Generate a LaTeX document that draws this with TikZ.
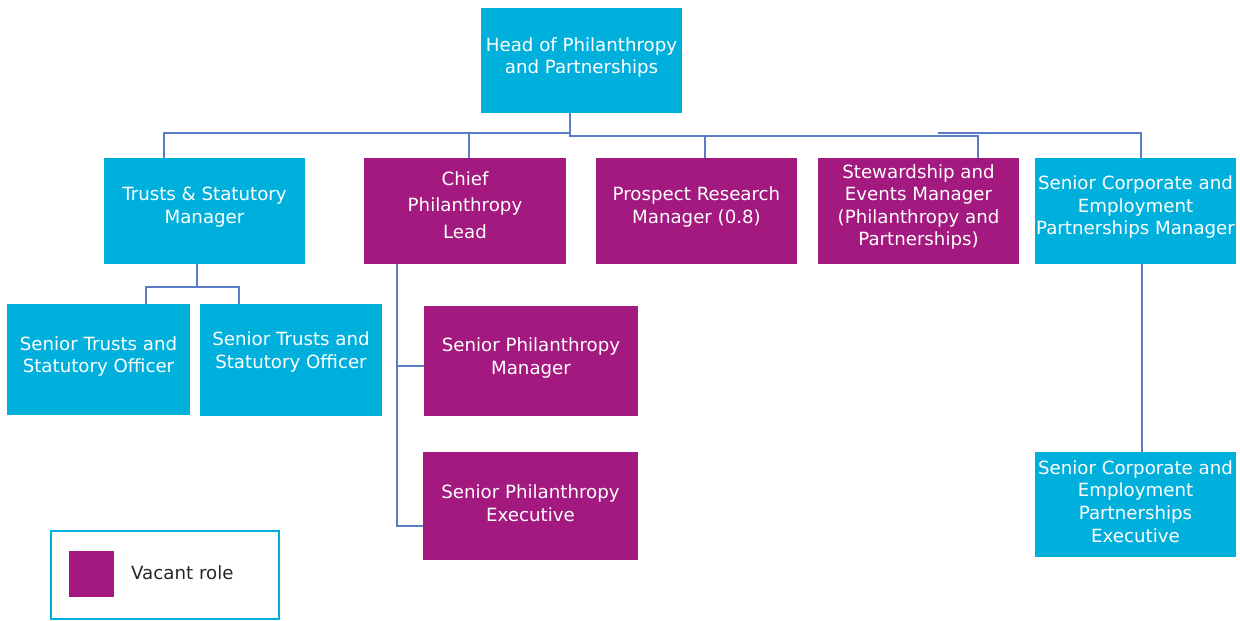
\documentclass[tikz,border=0pt]{standalone}
\usepackage{fontspec}
\newfontfamily\dvs{DejaVu Sans}
\definecolor{cy}{HTML}{00B0DC}
\definecolor{mg}{HTML}{A3197F}
\definecolor{ln}{HTML}{5A7DC8}
\begin{document}
\begin{tikzpicture}[x=1pt,y=-1pt,
  shp/.style={rectangle, inner sep=0pt},
  cyb/.style={shp, fill=cy},
  mgb/.style={shp, fill=mg},
  txt/.style={inner sep=0pt, align=center, text=white, font=\dvs\fontsize{18.2}{22.6}\selectfont},
  conn/.style={draw=ln, line width=1.3pt}]
\useasboundingbox (0,0) rectangle (1240,621);
% top
\node[cyb, minimum width=201pt, minimum height=105pt] (head) at (581.5,60.5) {};
\node[txt] (headt) at ([yshift=3pt]head.center) {Head of Philanthropy\\and Partnerships};
% row 2
\node[cyb, minimum width=201pt, minimum height=106pt] (trusts) at (204.5,211) {};
\node[txt] (trustst) at ([yshift=4pt]trusts.center) {Trusts \& Statutory\\Manager};
\node[mgb, minimum width=202pt, minimum height=106pt] (chief) at (465,211) {};
\node[txt, font=\dvs\fontsize{18.2}{26.5}\selectfont] (chieft) at ([yshift=6pt]chief.center) {Chief\\Philanthropy\\Lead};
\node[mgb, minimum width=201pt, minimum height=106pt] (prospect) at (696.5,211) {};
\node[txt] (prospectt) at ([yshift=4pt]prospect.center) {Prospect Research\\Manager (0.8)};
\node[mgb, minimum width=201pt, minimum height=106pt] (steward) at (918.5,211) {};
\node[txt] (stewardt) at ([yshift=4pt]steward.center) {Stewardship and\\Events Manager\\(Philanthropy and\\Partnerships)};
\node[cyb, minimum width=201pt, minimum height=106pt] (corpm) at (1135.5,211) {};
\node[txt] (corpmt) at ([yshift=4pt]corpm.center) {Senior Corporate and\\Employment\\Partnerships Manager};
% row 3
\node[cyb, minimum width=183pt, minimum height=111pt] (sto1) at (98.5,359.5) {};
\node[txt] (sto1t) at ([yshift=3pt]sto1.center) {Senior Trusts and\\Statutory Officer};
\node[cyb, minimum width=182pt, minimum height=112pt] (sto2) at (291,360) {};
\node[txt] (sto2t) at ([yshift=8pt]sto2.center) {Senior Trusts and\\Statutory Officer};
\node[mgb, minimum width=214pt, minimum height=110pt] (spm) at (531,361) {};
\node[txt] (spmt) at ([yshift=3pt]spm.center) {Senior Philanthropy\\Manager};
\node[mgb, minimum width=215pt, minimum height=108pt] (spe) at (530.5,506) {};
\node[txt] (spet) at ([yshift=3pt]spe.center) {Senior Philanthropy\\Executive};
\node[cyb, minimum width=201pt, minimum height=105pt] (corpe) at (1135.5,504.5) {};
\node[txt] (corpet) at ([yshift=3pt]corpe.center) {Senior Corporate and\\Employment\\Partnerships\\Executive};
% connectors from head
\coordinate (hj) at (570,113);
\coordinate (hj2) at (938,133);
\draw[conn] (hj) -- (570,133) -| (trusts.north -| 164,0);
\draw[conn] (570,133) -| (chief.north -| 469,0);
\draw[conn] (hj) -- (570,136) -| (prospect.north -| 705,0);
\draw[conn] (570,136) -| (steward.north -| 978,0);
\draw[conn] (hj2) -| (corpm.north -| 1141,0);
% trusts children
\draw[conn] (trusts.south -| 197,0) -- (197,287) -| (sto1.north -| 146,0);
\draw[conn] (197,287) -| (sto2.north -| 239,0);
% chief children
\draw[conn] (chief.south -| 397,0) |- (spm.west |- 0,366);
\draw[conn] (397,366) |- (spe.west |- 0,526);
% corp
\draw[conn] (corpm.south -| 1142,0) -- (corpe.north -| 1142,0);
% legend
\node[draw=cy, line width=2.5pt, minimum width=228pt, minimum height=88pt, inner sep=0pt] (legend) at (165,575) {};
\node[fill=mg, minimum width=45pt, minimum height=46pt, inner sep=0pt] (lsq) at (91.5,574) {};
\node[anchor=west, inner sep=0pt, font=\dvs\fontsize{18.2}{22}\selectfont, text=black!85] (ltxt) at (131,573) {Vacant role};
\end{tikzpicture}
\end{document}
